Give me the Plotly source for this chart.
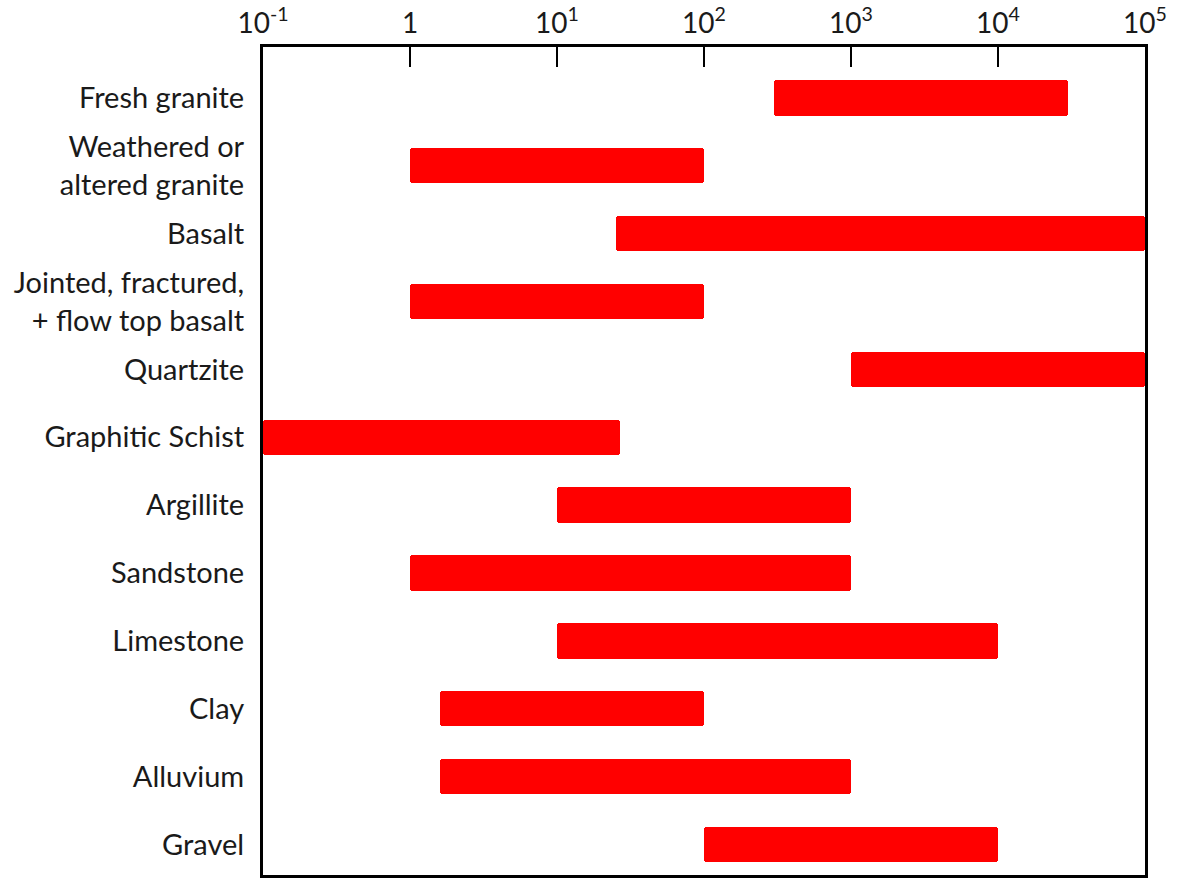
import plotly.graph_objects as go

rocks = ["Fresh granite", "Weathered or<br>altered granite", "Basalt",
         "Jointed, fractured,<br>+ flow top basalt", "Quartzite", "Graphitic Schist",
         "Argillite", "Sandstone", "Limestone", "Clay", "Alluvium", "Gravel"]
low = [300, 1, 25, 1, 1000, 0.1, 10, 1, 10, 1.6, 1.6, 100]
high = [30000, 100, 100000, 100, 100000, 27, 1000, 1000, 10000, 100, 1000, 10000]
tick_vals = [0.1, 1, 10, 100, 1000, 10000, 100000]
tick_text = ["10<sup>-1</sup>", "1", "10<sup>1</sup>", "10<sup>2</sup>",
             "10<sup>3</sup>", "10<sup>4</sup>", "10<sup>5</sup>"]

fig = go.Figure(go.Bar(
    y=rocks,
    x=[h - l for h, l in zip(high, low)],
    base=low,
    orientation="h",
    marker=dict(color="#ff0000", cornerradius=3, line=dict(width=0)),
    width=0.52,
    hoverinfo="skip",
))

fig.update_layout(
    width=1179, height=880,
    margin=dict(l=263, r=34, t=46, b=2),
    paper_bgcolor="white", plot_bgcolor="white",
    font=dict(family="Lato, Carlito, sans-serif", size=29, color="#1a1a1a"),
    showlegend=False,
    bargap=0,
)
fig.update_xaxes(
    type="log", range=[-1, 5], side="top",
    tickvals=tick_vals, ticktext=tick_text,
    ticks="inside", ticklen=20, tickwidth=2, tickcolor="black",
    showline=True, linewidth=3, linecolor="black", mirror=True,
    showgrid=False, zeroline=False,
    tickfont=dict(size=28),
)
fig.update_yaxes(
    type="category", range=[11.45, -0.75],
    showline=True, linewidth=3, linecolor="black", mirror=True,
    showgrid=False, ticks="", ticklabelstandoff=10,
    tickfont=dict(size=29),
)

fig.write_html("out.html")
